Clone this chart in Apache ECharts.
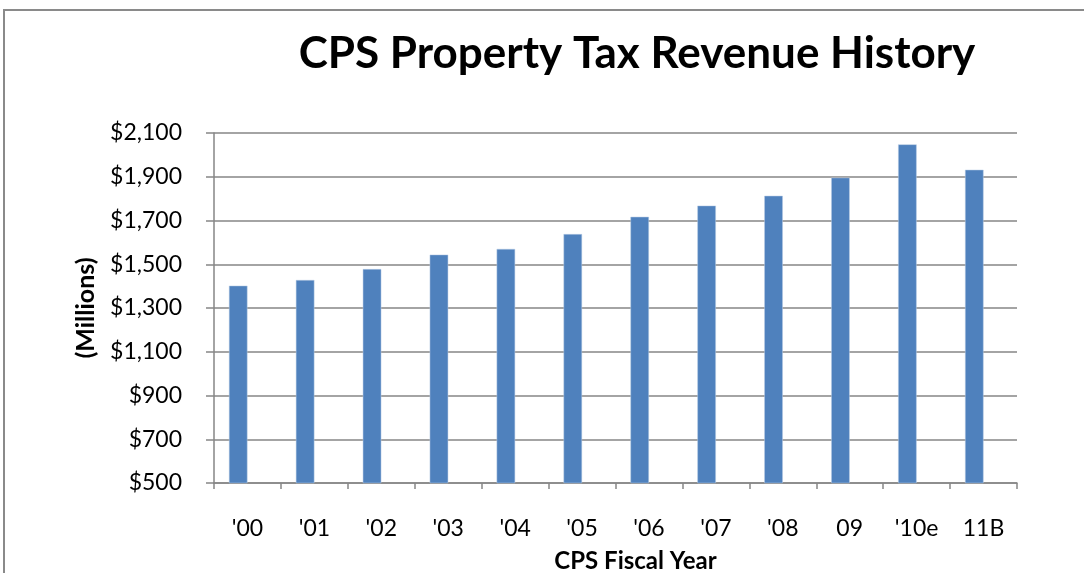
<!DOCTYPE html>
<html>
<head>
<meta charset="utf-8">
<script src="https://cdn.jsdelivr.net/npm/echarts@6/dist/echarts.min.js"></script>
<style>
  html, body { margin: 0; padding: 0; background: #fff; }
  #chart { width: 1084px; height: 573px; position: relative; }
  /* outer chart frame, only top and left edge visible */
  #frame { position: absolute; left: 3px; top: 9px; width: 1200px; height: 700px;
           border-top: 2px solid #8a8a8a; border-left: 2px solid #8a8a8a; pointer-events: none; }
</style>
</head>
<body>
<div id="chart"></div>
<div id="frame"></div>
<script>
// 数据
const years = ["'00", "'01", "'02", "'03", "'04", "'05", "'06", "'07", "'08", "09", "'10e", "11B"];
const revenue = [1402, 1428, 1478, 1544, 1570, 1638, 1717, 1768, 1813, 1896, 2048, 1932];
const yTicks = [500, 700, 900, 1100, 1300, 1500, 1700, 1900, 2100];

const chart = echarts.init(document.getElementById('chart'));
const grey = '#868686';

const option = {
  backgroundColor: 'transparent',
  animation: false,
  title: {
    text: 'CPS Property Tax Revenue History',
    left: 632,
    top: 27,
    textAlign: 'center',
    textStyle: { fontFamily: 'Lato', fontWeight: 'bold', fontSize: 44, color: '#000' }
  },
  grid: { left: 214, right: 67, top: 133, bottom: 90, outerBoundsMode: 'none' },
  xAxis: {
    type: 'category',
    data: years,
    name: 'CPS Fiscal Year',
    nameLocation: 'middle',
    nameGap: 66,
    nameTextStyle: { fontFamily: 'Lato', fontWeight: 'bold', fontSize: 24, color: '#000', padding: [0, 0, 0, 40] },
    axisLine: { lineStyle: { color: grey, width: 1.5 } },
    axisTick: { show: true, length: 6, lineStyle: { color: grey, width: 1.5 } },
    axisLabel: { margin: 34, fontFamily: 'Lato', fontSize: 23, color: '#000' }
  },
  yAxis: {
    type: 'value',
    min: 500,
    max: 2100,
    interval: 200,
    name: '(Millions)',
    nameLocation: 'middle',
    nameGap: 116,
    nameRotate: 90,
    nameTextStyle: { fontFamily: 'Lato', fontWeight: 'bold', fontSize: 25, color: '#000' },
    axisLine: { show: true, lineStyle: { color: grey, width: 1.5 } },
    axisTick: { show: true, length: 8, customValues: yTicks, lineStyle: { color: grey, width: 1.5 } },
    splitLine: { show: true, customValues: yTicks, lineStyle: { color: grey, width: 1.5 } },
    axisLabel: {
      margin: 32,
      customValues: yTicks,
      fontFamily: 'Lato',
      fontSize: 23,
      color: '#000',
      formatter: (v) => '$' + v.toLocaleString('en-US')
    }
  },
  series: [
    {
      type: 'bar',
      data: revenue,
      barWidth: 18.5,
      barGap: '0%',
      itemStyle: { color: '#4F81BD', borderColor: '#b9cde5', borderWidth: 0.5 }
    },
    {
      // 空系列，占位让柱子偏左（与原图一致）
      type: 'bar',
      data: [],
      barWidth: 18.5
    }
  ]
};
chart.setOption(option);
</script>
</body>
</html>
